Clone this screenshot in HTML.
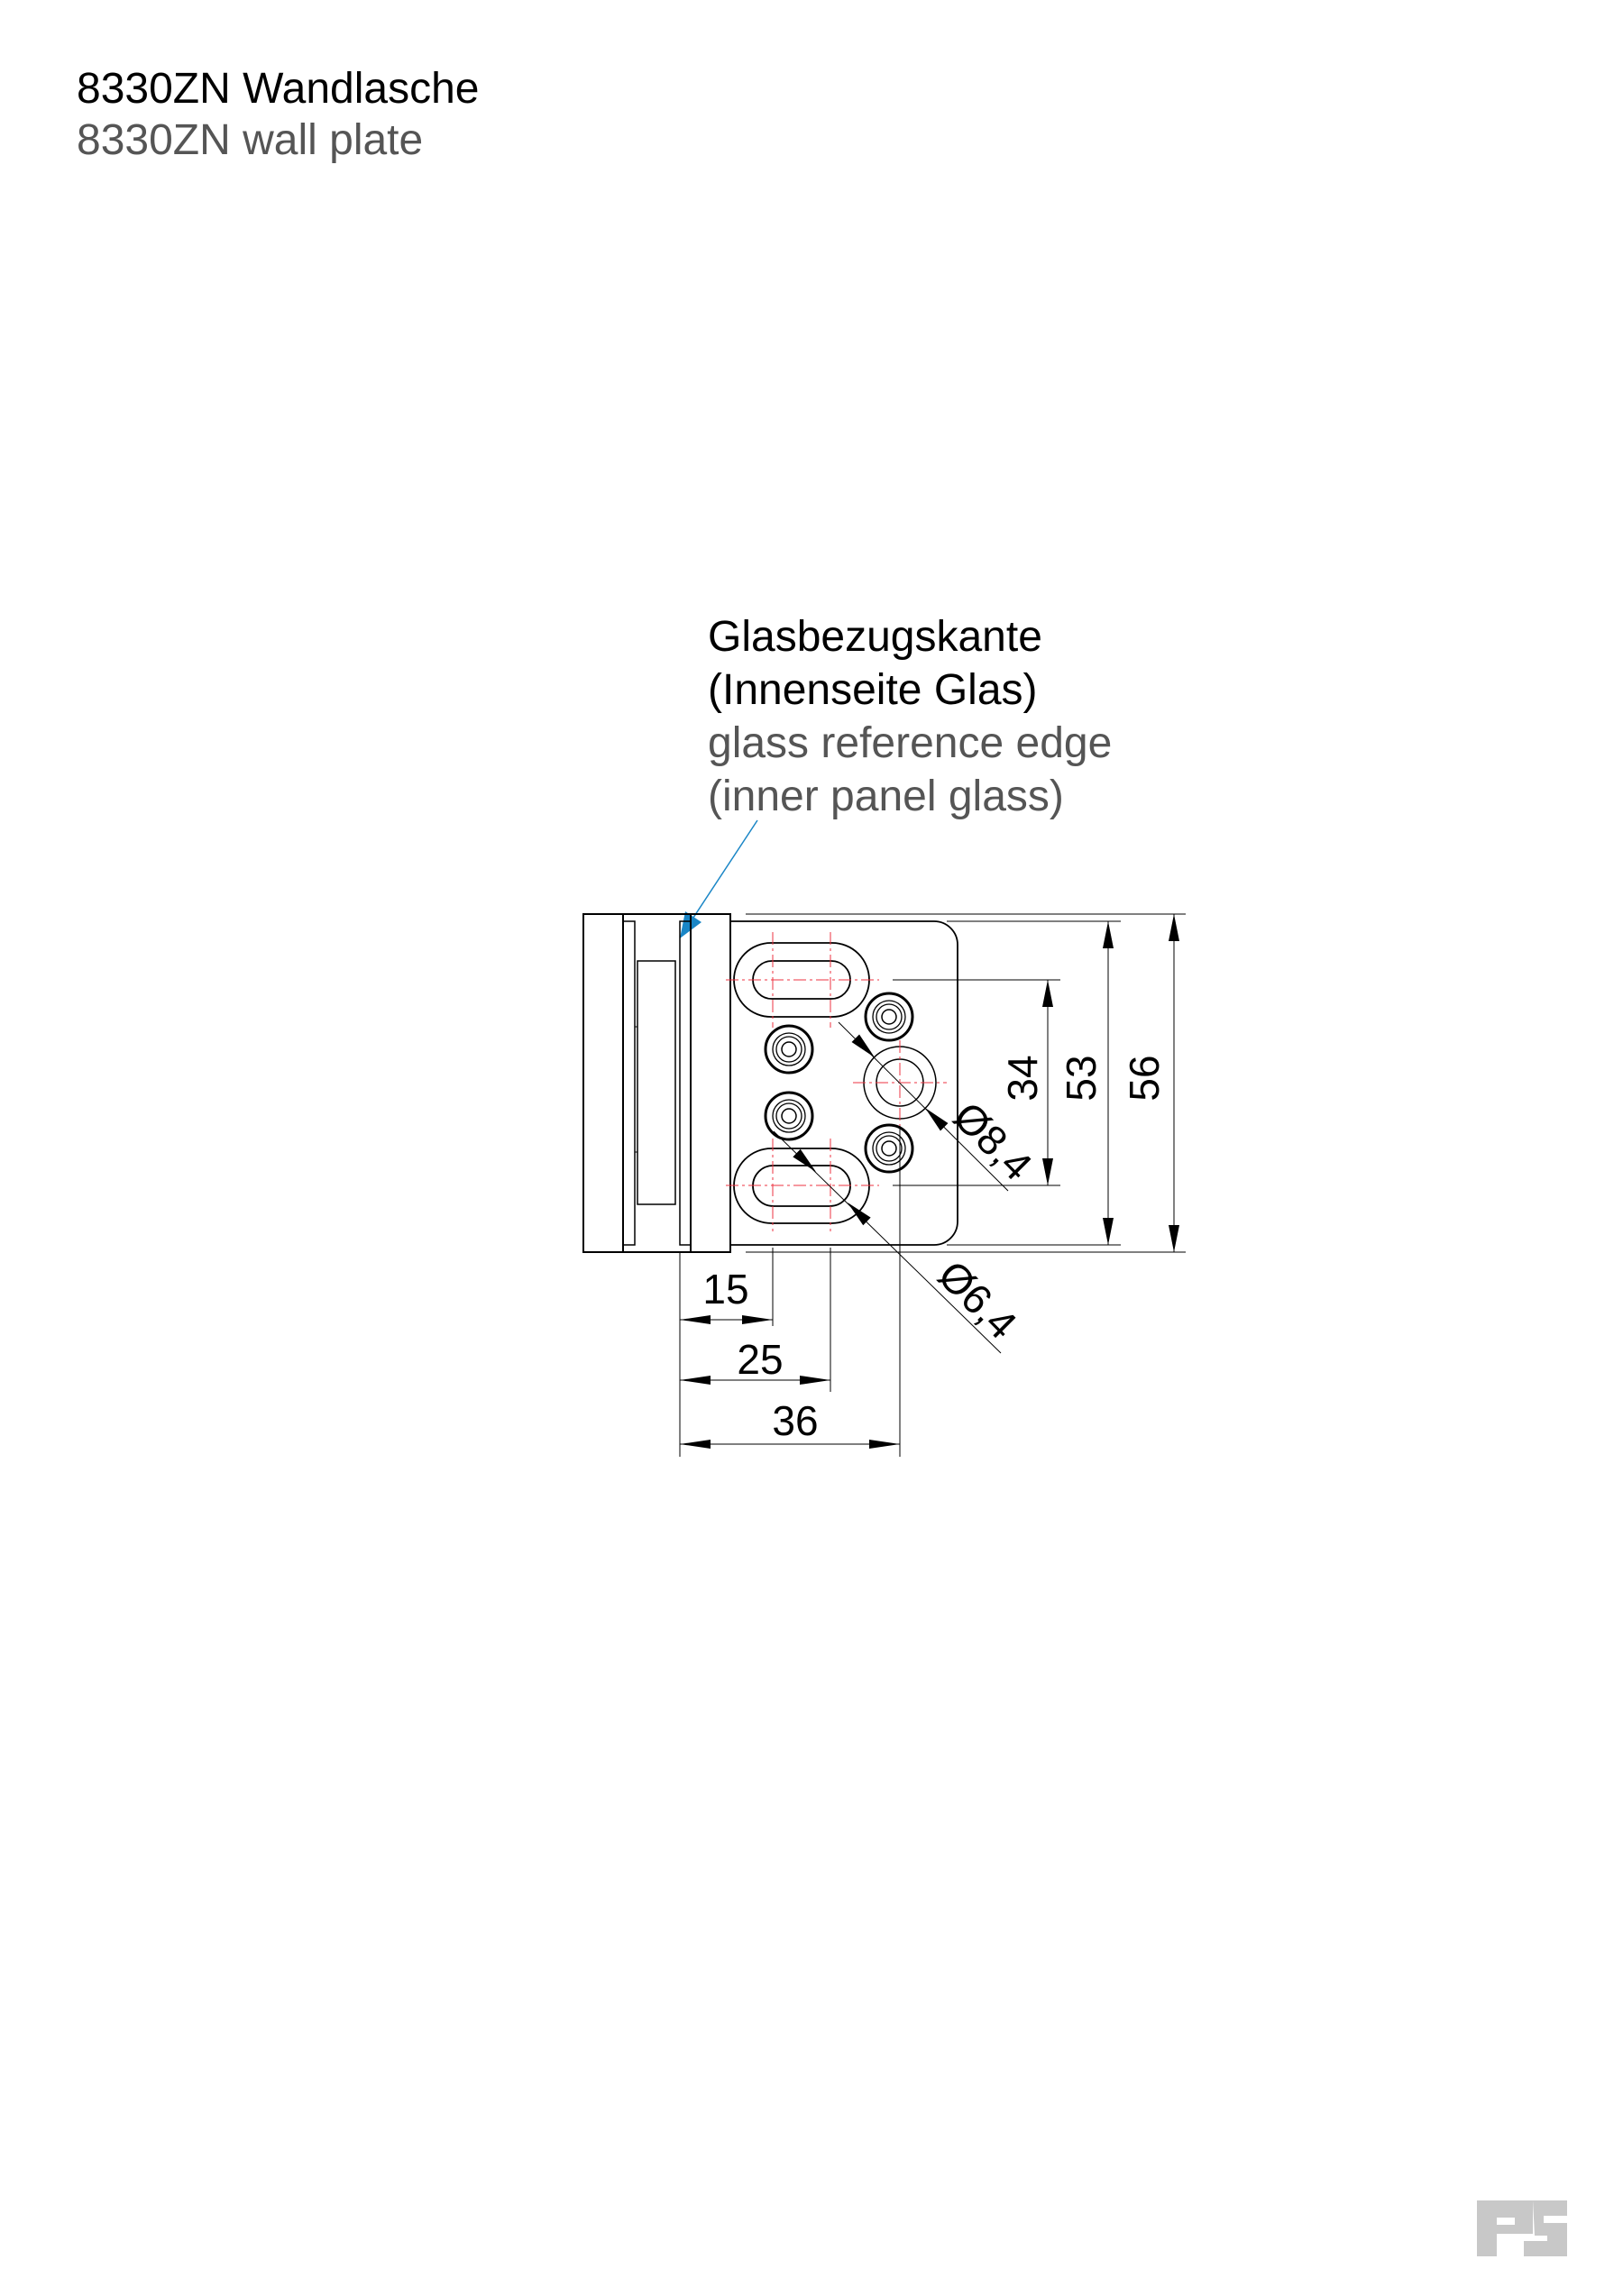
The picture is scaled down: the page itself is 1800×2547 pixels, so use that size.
<!DOCTYPE html>
<html><head><meta charset="utf-8"><style>
html,body{margin:0;padding:0;background:#fff;}
svg{display:block;}
text{font-family:"Liberation Sans",Arial,sans-serif;}
</style></head><body>
<svg width="1800" height="2547" viewBox="0 0 1800 2547" xmlns="http://www.w3.org/2000/svg">
<text x="85" y="114" font-size="48" fill="#000">8330ZN Wandlasche</text>
<text x="85" y="171" font-size="48" fill="#555">8330ZN wall plate</text>

<text x="785" y="722" font-size="48" fill="#000">Glasbezugskante</text>
<text x="785" y="781" font-size="48" fill="#000">(Innenseite Glas)</text>
<text x="785" y="840" font-size="48" fill="#555">glass reference edge</text>
<text x="785" y="899" font-size="48" fill="#555">(inner panel glass)</text>

<line x1="840" y1="910" x2="765" y2="1024" stroke="#1a86c6" stroke-width="1.5"/>
<polygon points="754,1041 760,1011 778,1023" fill="#1a86c6"/>

<g stroke="#000" fill="none" stroke-width="2">
<rect x="647" y="1014" width="163" height="375"/>
<line x1="691" y1="1014" x2="691" y2="1389"/>
<line x1="766" y1="1014" x2="766" y2="1389"/>
<rect x="691" y="1022" width="13" height="359" stroke-width="1.5"/>
<rect x="754" y="1022" width="12" height="359" stroke-width="1.5"/>
<rect x="707" y="1066" width="42" height="270" stroke-width="1.5"/>
<line x1="704" y1="1139" x2="707" y2="1139" stroke-width="1"/>
<line x1="704" y1="1278" x2="707" y2="1278" stroke-width="1"/>
<path d="M810 1022 H1036 A26 26 0 0 1 1062 1048 V1355 A26 26 0 0 1 1036 1381 H810" stroke-width="1.8"/>
<rect x="814" y="1046" width="150" height="82" rx="41" stroke-width="1.8"/>
<rect x="835" y="1066" width="108" height="42" rx="21" stroke-width="1.8"/>
<rect x="814" y="1274" width="150" height="83" rx="41.5" stroke-width="1.8"/>
<rect x="835" y="1293" width="108" height="45" rx="22.5" stroke-width="1.8"/>
<circle cx="998" cy="1201" r="40" stroke-width="1.5"/>
<circle cx="998" cy="1201" r="26" stroke-width="1.5"/>
</g>
<g stroke="#000" fill="none">
<g transform="translate(875,1164)"><circle r="26" stroke-width="3"/><circle r="18" stroke-width="1.3"/><circle r="14" stroke-width="1.3"/><circle r="8" stroke-width="1.5"/></g>
<g transform="translate(875,1238)"><circle r="26" stroke-width="3"/><circle r="18" stroke-width="1.3"/><circle r="14" stroke-width="1.3"/><circle r="8" stroke-width="1.5"/></g>
<g transform="translate(986,1128)"><circle r="26" stroke-width="3"/><circle r="18" stroke-width="1.3"/><circle r="14" stroke-width="1.3"/><circle r="8" stroke-width="1.5"/></g>
<g transform="translate(986,1274)"><circle r="26" stroke-width="3"/><circle r="18" stroke-width="1.3"/><circle r="14" stroke-width="1.3"/><circle r="8" stroke-width="1.5"/></g>
</g>
<g stroke="#ee3340" stroke-width="1" stroke-dasharray="14,4,3,4">
<line x1="857" y1="1034" x2="857" y2="1140"/>
<line x1="921" y1="1034" x2="921" y2="1140"/>
<line x1="805" y1="1087" x2="975" y2="1087"/>
<line x1="857" y1="1263" x2="857" y2="1366"/>
<line x1="921" y1="1263" x2="921" y2="1366"/>
<line x1="805" y1="1315" x2="975" y2="1315"/>
<line x1="946" y1="1201" x2="1050" y2="1201"/>
<line x1="998" y1="1154" x2="998" y2="1249"/>
</g>
<g stroke="#000" stroke-width="1" fill="none">
<line x1="827" y1="1014" x2="1315" y2="1014"/>
<line x1="827" y1="1389" x2="1315" y2="1389"/>
<line x1="1302" y1="1014" x2="1302" y2="1389"/>
<line x1="1050" y1="1022" x2="1243" y2="1022"/>
<line x1="1050" y1="1381" x2="1243" y2="1381"/>
<line x1="1229" y1="1022" x2="1229" y2="1381"/>
<line x1="990" y1="1087" x2="1176" y2="1087"/>
<line x1="990" y1="1315" x2="1176" y2="1315"/>
<line x1="1162" y1="1087" x2="1162" y2="1315"/>
<line x1="754" y1="1389" x2="754" y2="1616"/>
<line x1="857" y1="1384" x2="857" y2="1471"/>
<line x1="921" y1="1384" x2="921" y2="1544"/>
<line x1="998" y1="1249" x2="998" y2="1616"/>
<line x1="754" y1="1464" x2="857" y2="1464"/>
<line x1="754" y1="1531" x2="921" y2="1531"/>
<line x1="754" y1="1602" x2="998" y2="1602"/>
<line x1="930" y1="1134" x2="1118" y2="1321"/>
<line x1="858" y1="1255" x2="1110" y2="1501"/>
</g>
<g fill="#000">
<polygon points="1302,1014 1296,1044 1308,1044"/><polygon points="1302,1389 1296,1359 1308,1359"/>
<polygon points="1229,1022 1223,1052 1235,1052"/><polygon points="1229,1381 1223,1351 1235,1351"/>
<polygon points="1162,1087 1156,1117 1168,1117"/><polygon points="1162,1315 1156,1285 1168,1285"/>
<polygon points="754,1464 788,1459 788,1469"/><polygon points="857,1464 823,1459 823,1469"/>
<polygon points="754,1531 788,1526 788,1536"/><polygon points="921,1531 887,1526 887,1536"/>
<polygon points="754,1602 788,1597 788,1607"/><polygon points="998,1602 964,1597 964,1607"/>
<g transform="translate(970,1173) rotate(45)"><polygon points="0,0 -30,-6 -30,6"/></g>
<g transform="translate(1026,1229) rotate(225)"><polygon points="0,0 -30,-6 -30,6"/></g>
<g transform="translate(905,1300) rotate(44.3)"><polygon points="0,0 -30,-6 -30,6"/></g>
<g transform="translate(940,1334) rotate(224.3)"><polygon points="0,0 -30,-6 -30,6"/></g>
</g>
<g font-size="46" fill="#000" text-anchor="middle">
<text transform="translate(1150,1196) rotate(-90)">34</text>
<text transform="translate(1215,1196) rotate(-90)">53</text>
<text transform="translate(1285,1196) rotate(-90)">56</text>
<text x="805" y="1446">15</text>
<text x="843" y="1524">25</text>
<text x="882" y="1592">36</text>
<text transform="translate(1090,1277) rotate(45)">Ø8,4</text>
<text transform="translate(1073,1453) rotate(45)">Ø6,4</text>
</g>
<g fill="#c8c8c8">
<path d="M1638 2441 H1700 V2478 H1660 V2503 H1638 Z"/>
<path d="M1660 2460 H1680 V2468 H1660 Z" fill="#fff"/>
<path d="M1700 2441 H1738 V2458 H1712 V2466 H1738 V2503 H1690 V2486 H1716 V2480 H1702 Z"/>
</g>
</svg>
</body></html>
